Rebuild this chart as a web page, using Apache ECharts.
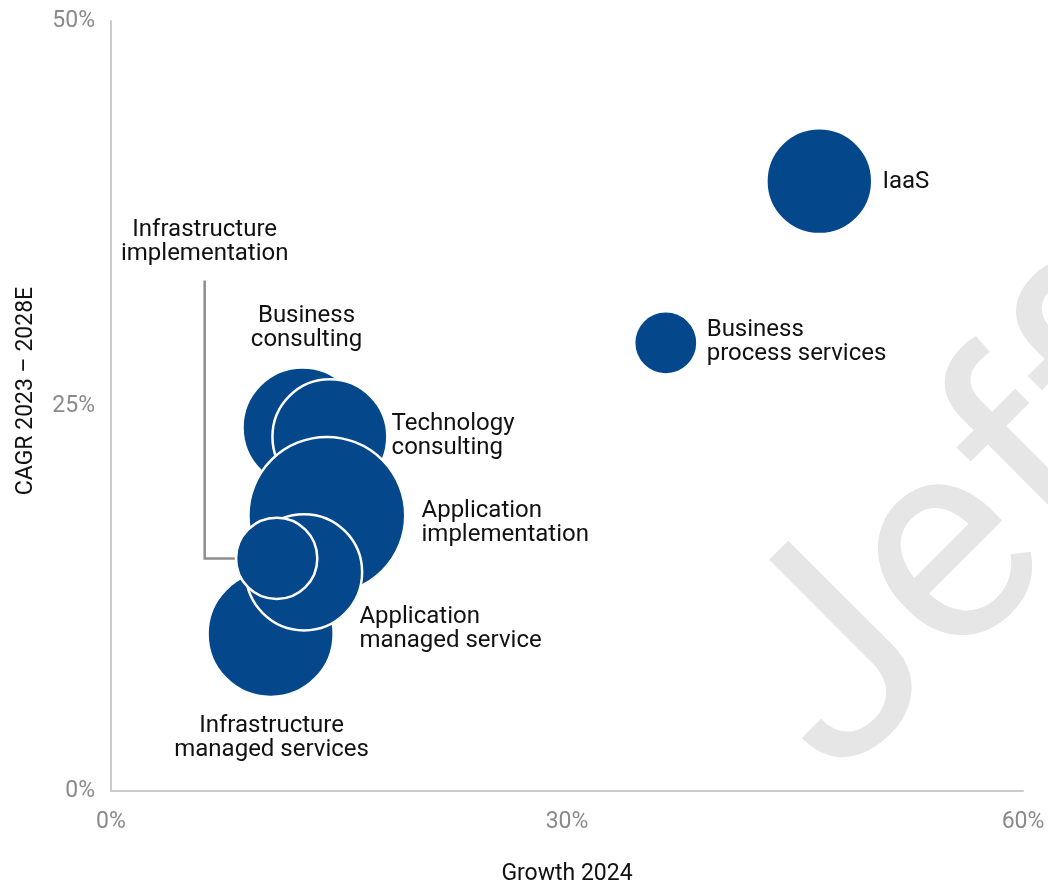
<!DOCTYPE html>
<html>
<head>
<meta charset="utf-8">
<script src="https://cdn.jsdelivr.net/npm/echarts@6/dist/echarts.min.js"></script>
<style>
  html, body { margin: 0; padding: 0; background: #fff; }
  #chart { width: 1048px; height: 883px; }
</style>
</head>
<body>
<div id="chart"></div>
<script>
// segments, back to front
const segments = [
  "Business\nconsulting",
  "Technology\nconsulting",
  "Application\nimplementation",
  "Infrastructure\nmanaged services",
  "Application\nmanaged service",
  "Infrastructure\nimplementation",
  "IaaS",
  "Business\nprocess services",
]
const growth2024 = [12.6, 14.4, 14.2, 10.5, 12.7, 10.9, 46.6, 36.5]
const cagr2328 = [23.6, 23.0, 17.9, 10.2, 14.2, 15.1, 39.6, 29.1]
const marketSize = [144, 132, 246, 159, 135, 66, 112, 40]

const xTicks = [0, 30, 60]
const yTicks = [0, 25, 50]

const BLUE = "#04478a"
const FONT = "Roboto"

// where each label sits relative to its bubble
const labelLayout = {
  "Business\nconsulting": { position: "top", distance: 14, offset: [4, 0] },
  "Technology\nconsulting": { position: "right", distance: 3, offset: [0, -1] },
  "Application\nimplementation": { position: "right", distance: 15, offset: [0, 8] },
  "Infrastructure\nmanaged services": { position: "bottom", distance: 16, offset: [1, 0] },
  "Application\nmanaged service": { position: "right", distance: -4, offset: [0, 57] },
  "Infrastructure\nimplementation": { position: "inside", offset: [-72, -316] },
  "IaaS": { position: "right", distance: 9, offset: [0, 1] },
  "Business\nprocess services": { position: "right", distance: 8, offset: [0, -1] },
}

const bubbleDiameter = v => Math.sqrt(v) * 10

const chart = echarts.init(document.getElementById("chart"), null, { renderer: "canvas" })

const data = segments.map((name, i) => ({
  name,
  value: [growth2024[i], cagr2328[i], marketSize[i]],
  label: {
    show: true,
    formatter: "{b}",
    align: labelLayout[name].position === "right" ? "left" : "center",
    ...labelLayout[name],
  },
}))

const axisLabel = {
  color: "#8a8a8a",
  fontFamily: FONT,
  fontSize: 23,
  formatter: "{value}%",
}

chart.setOption({
  animation: false,
  textStyle: { fontFamily: FONT },
  grid: { left: 111, right: 25, top: 21, bottom: 92, outerBoundsMode: "none" },
  graphic: [
    {
      id: "watermark",
      type: "text",
      x: 888,
      y: 835,
      rotation: Math.PI / 4,
      z: -10,
      silent: true,
      style: {
        text: "Jefferies",
        fill: "#e6e6e6",
        fontFamily: FONT,
        fontSize: 290,
        textAlign: "left",
        textVerticalAlign: "bottom",
      },
    },
  ],
  xAxis: {
    type: "value",
    min: xTicks[0],
    max: xTicks[xTicks.length - 1],
    interval: xTicks[1] - xTicks[0],
    name: "Growth 2024",
    nameLocation: "middle",
    nameGap: 72,
    nameTextStyle: { color: "#111", fontSize: 23, fontFamily: FONT },
    axisLine: { show: true, lineStyle: { color: "#cccccc", width: 2 } },
    axisTick: { show: false },
    splitLine: { show: false },
    axisLabel: { ...axisLabel, margin: 20 },
  },
  yAxis: {
    type: "value",
    min: yTicks[0],
    max: yTicks[yTicks.length - 1],
    interval: yTicks[1] - yTicks[0],
    name: "CAGR 2023 \u2013 2028E",
    nameLocation: "middle",
    nameGap: 73,
    nameTextStyle: { color: "#111", fontSize: 23, fontFamily: FONT, padding: [0, 0, 0, 30] },
    axisLine: { show: true, lineStyle: { color: "#cccccc", width: 2 } },
    axisTick: { show: false },
    splitLine: { show: false },
    axisLabel: { ...axisLabel, margin: 16 },
  },
  series: [
    {
      type: "scatter",
      data,
      symbol: "circle",
      symbolSize: val => bubbleDiameter(val[2]),
      itemStyle: {
        color: BLUE,
        opacity: 1,
        borderColor: "#ffffff",
        borderWidth: 2.5,
      },
      label: {
        color: "#111",
        fontFamily: FONT,
        fontSize: 24,
        lineHeight: 24,
      },
      emphasis: { disabled: true },
    },
  ],
})

// leader line from the "Infrastructure implementation" label down to its bubble
const idx = segments.indexOf("Infrastructure\nimplementation")
const [cx, cy] = chart.convertToPixel({ seriesIndex: 0 }, [growth2024[idx], cagr2328[idx]])
const r = bubbleDiameter(marketSize[idx]) / 2
const lx = cx + labelLayout[segments[idx]].offset[0]
chart.setOption({
  graphic: [
    {
      id: "leader",
      type: "polyline",
      z: 1,
      silent: true,
      shape: { points: [[lx, cy - 278], [lx, cy], [cx - r - 1, cy]] },
      style: { stroke: "#8e8e8e", lineWidth: 2.5, fill: null },
    },
  ],
})
</script>
</body>
</html>
